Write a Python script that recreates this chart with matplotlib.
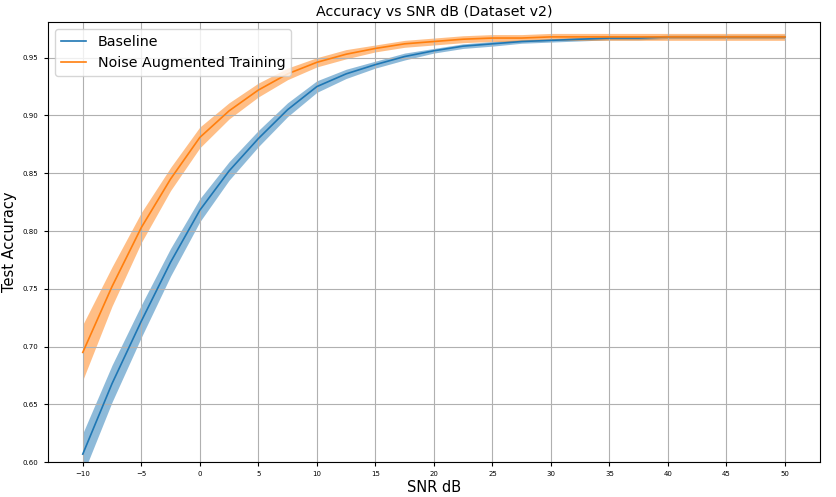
import numpy as np
import matplotlib
matplotlib.use("Agg")
import matplotlib.pyplot as plt

snr = [-10, -7.5, -5, -2.5, 0, 2.5, 5, 7.5, 10, 12.5, 15, 17.5, 20, 22.5, 25,
       27.5, 30, 32.5, 35, 37.5, 40, 42.5, 45, 47.5, 50]
baseline_mean = [0.607, 0.668, 0.722, 0.773, 0.818, 0.852, 0.880, 0.905, 0.925,
                 0.936, 0.944, 0.951, 0.956, 0.960, 0.962, 0.964, 0.965, 0.966,
                 0.967, 0.967, 0.968, 0.968, 0.968, 0.968, 0.968]
baseline_std = [0.018, 0.016, 0.014, 0.012, 0.010, 0.008, 0.007, 0.006, 0.005,
                0.004, 0.003, 0.003, 0.002, 0.002, 0.002, 0.0015, 0.0015, 0.0015,
                0.0015, 0.0015, 0.0015, 0.0015, 0.0015, 0.0015, 0.0015]
aug_mean = [0.695, 0.752, 0.803, 0.845, 0.881, 0.904, 0.922, 0.936, 0.946, 0.953,
            0.958, 0.962, 0.964, 0.966, 0.967, 0.967, 0.968, 0.968, 0.968, 0.968,
            0.968, 0.968, 0.968, 0.968, 0.968]
aug_std = [0.024, 0.017, 0.013, 0.010, 0.009, 0.007, 0.006, 0.005, 0.004, 0.004,
           0.003, 0.003, 0.003, 0.003, 0.003, 0.003, 0.003, 0.003, 0.003, 0.003,
           0.003, 0.003, 0.003, 0.003, 0.003]
xticks = [-10, -5, 0, 5, 10, 15, 20, 25, 30, 35, 40, 45, 50]
yticks = [0.60, 0.65, 0.70, 0.75, 0.80, 0.85, 0.90, 0.95]

x = np.array(snr)
bm, bs = np.array(baseline_mean), np.array(baseline_std)
am, ast = np.array(aug_mean), np.array(aug_std)

fig = plt.figure(figsize=(8.36, 4.97), dpi=100)
ax = fig.add_axes([0.057, 0.070, 0.924, 0.886])

ax.plot(x, bm, color="#1f77b4", lw=1.2, label="Baseline")
ax.fill_between(x, bm - bs, bm + bs, color="#1f77b4", alpha=0.5, lw=0)
ax.plot(x, am, color="#ff7f0e", lw=1.2, label="Noise Augmented Training")
ax.fill_between(x, am - ast, am + ast, color="#ff7f0e", alpha=0.5, lw=0)

ax.set_xticks(xticks)
ax.set_yticks(yticks)
ax.set_yticklabels([f"{v:.2f}" for v in yticks])
ax.set_xlim(-13, 53)
ax.set_ylim(0.60, 0.981)
ax.tick_params(labelsize=5, length=3)
ax.grid(True, color="#b0b0b0", lw=0.8)

ax.set_title("Accuracy vs SNR dB (Dataset v2)", fontsize=10.3, pad=4)
ax.set_xlabel("SNR dB", fontsize=10.5, labelpad=2)
ax.set_ylabel("Test Accuracy", fontsize=10.5, labelpad=4)
ax.legend(loc="upper left", fontsize=10.3, frameon=True, handlelength=1.8)

fig.savefig("out.png", dpi=100)
